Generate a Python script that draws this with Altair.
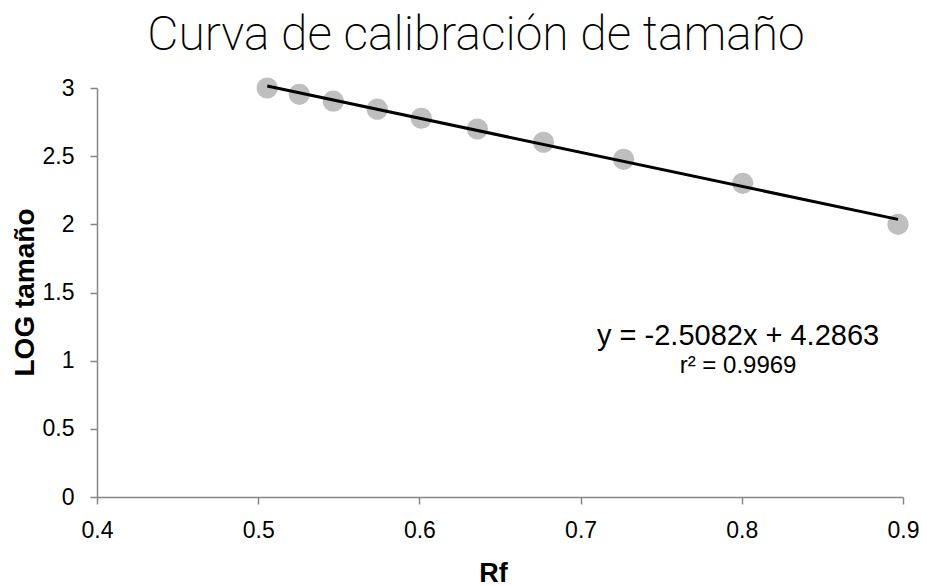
import altair as alt
import pandas as pd

# Data
rf = [0.5056, 0.5255, 0.5466, 0.5739, 0.6012, 0.636, 0.677, 0.7267, 0.8006, 0.8969]
log_tamano = [3.0, 2.954, 2.903, 2.845, 2.778, 2.699, 2.602, 2.477, 2.301, 2.0]

x_ticks = [0.4, 0.5, 0.6, 0.7, 0.8, 0.9]
y_ticks = [0, 0.5, 1, 1.5, 2, 2.5, 3]

eq_text = ["y = -2.5082x + 4.2863"]
r2_text = ["r² = 0.9969"]
eq_pos_x = [0.7977]
eq_pos_y = [1.118]
r2_pos_y = [0.912]

df = pd.DataFrame({"rf": rf, "logt": log_tamano})
eq_df = pd.DataFrame({"x": eq_pos_x, "y": eq_pos_y, "t": eq_text})
r2_df = pd.DataFrame({"x": eq_pos_x, "y": r2_pos_y, "t": r2_text})

x_enc = alt.X(
    "rf:Q",
    scale=alt.Scale(domain=[0.4, 0.9], nice=False, zero=False),
    axis=alt.Axis(values=x_ticks, format="~g", title="Rf", labelPadding=15,
                  labelFlush=False,
                  titleX=396, titleY=84, titleBaseline="alphabetic",
                  titleAlign="center", titleFontSize=27),
)
y_enc = alt.Y(
    "logt:Q",
    scale=alt.Scale(domain=[0, 3], nice=False, zero=False),
    axis=alt.Axis(values=y_ticks, format="~g", title="LOG tamaño", labelPadding=16,
                  labelFlush=False,
                  titleX=-72, titleY=204, titleAngle=-90, titleBaseline="middle",
                  titleAlign="center", titleFontSize=28),
)

points = alt.Chart(df).mark_circle(size=450, color="#BFBFBF", opacity=1).encode(x=x_enc, y=y_enc)

trend = (
    alt.Chart(df)
    .transform_regression("rf", "logt")
    .mark_line(color="black", strokeWidth=3)
    .encode(x="rf:Q", y="logt:Q")
)

eq = alt.Chart(eq_df).mark_text(
    font="Liberation Sans", fontSize=29, color="black", align="center", baseline="alphabetic"
).encode(x="x:Q", y="y:Q", text="t:N")

r2 = alt.Chart(r2_df).mark_text(
    font="Liberation Sans", fontSize=24, color="black", align="center", baseline="alphabetic"
).encode(x="x:Q", y="y:Q", text="t:N")

chart = (
    alt.layer(points, trend, eq, r2)
    .properties(
        width=806,
        height=409,
        background="white",
        autosize=alt.AutoSizeParams(type="none"),
        padding={"left": 89, "top": 80, "right": 16, "bottom": 98},
        title=alt.Title(
            "Curva de calibración de tamaño",
            font="Roboto", fontWeight=200, fontSize=48, color="black",
            anchor="middle", dx=-24, offset=17,
        ),
    )
    .configure_view(stroke=None)
    .configure_axis(
        grid=False,
        domainColor="#868686", tickColor="#868686",
        domainWidth=1.5, tickWidth=1.5, tickSize=7,
        labelFont="Liberation Sans", labelFontSize=23, labelColor="black",
        titleFont="Liberation Sans", titleFontWeight="bold", titleColor="black",
    )
)

chart.save("out.html", embed_options={"renderer": "svg", "actions": False})
